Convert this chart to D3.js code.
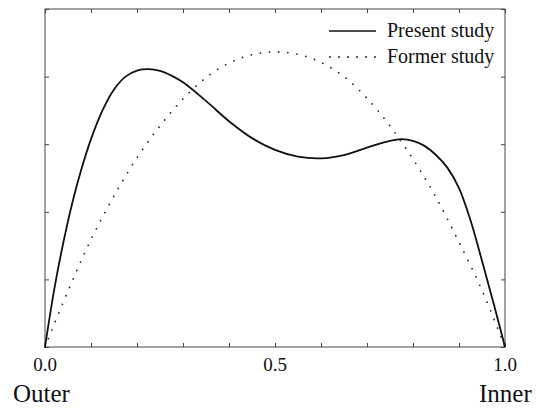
<!DOCTYPE html>
<html>
<head>
<meta charset="utf-8">
<script src="https://cdn.jsdelivr.net/npm/d3@7"></script>
<style>
  html, body { margin: 0; padding: 0; background: #fff; }
  svg text { font-family: "Liberation Serif", "Times New Roman", serif; fill: #111; }
</style>
</head>
<body>
<svg id="chart" width="536" height="409"></svg>
<script>
// ---------- DATA ----------
const xPresent = [0, 0.02, 0.04, 0.06, 0.08, 0.1, 0.125, 0.15, 0.175, 0.2, 0.225, 0.25, 0.275, 0.3,
  0.35, 0.4, 0.45, 0.5, 0.55, 0.6, 0.65, 0.7, 0.75, 0.775, 0.8, 0.825, 0.85, 0.875, 0.9, 0.925, 0.95, 0.975, 1];
const yPresent = [0, 0.17, 0.31, 0.43, 0.53, 0.615, 0.70, 0.762, 0.80, 0.818, 0.822, 0.817, 0.803, 0.783,
  0.728, 0.668, 0.618, 0.583, 0.563, 0.558, 0.568, 0.59, 0.61, 0.615, 0.61, 0.595, 0.568, 0.53, 0.47, 0.375, 0.255, 0.13, 0];

const xFormer = [0, 0.05, 0.1, 0.15, 0.2, 0.25, 0.3, 0.35, 0.4, 0.45, 0.5,
  0.55, 0.6, 0.65, 0.7, 0.75, 0.8, 0.85, 0.9, 0.95, 1];
const yFormer = [0, 0.166, 0.318, 0.447, 0.56, 0.654, 0.734, 0.797, 0.84, 0.865, 0.873,
  0.866, 0.842, 0.80, 0.736, 0.654, 0.556, 0.443, 0.31, 0.168, 0];

const xTicks = [0, 0.1, 0.2, 0.3, 0.4, 0.5, 0.6, 0.7, 0.8, 0.9, 1];
const yTicks = [0, 0.2, 0.4, 0.6, 0.8, 1];
const xTickLabels = [0, 0.5, 1];
const seriesNames = ['Present study', 'Former study'];

// ---------- CHART ----------
(function drawChart() {
  const svg = d3.select('#chart');
  const margin = { top: 9, right: 31, bottom: 62, left: 45 };
  const w = 536 - margin.left - margin.right;
  const h = 409 - margin.top - margin.bottom;

  const g = svg.append('g').attr('transform', `translate(${margin.left},${margin.top})`);

  const x = d3.scaleLinear().domain([0, 1]).range([0, w]);
  const y = d3.scaleLinear().domain([0, 1]).range([h, 0]);

  // inward ticks on all four sides
  const tick = 4;
  const axes = [
    [d3.axisBottom(x).tickValues(xTicks), `translate(0,${h})`],
    [d3.axisTop(x).tickValues(xTicks), 'translate(0,0)'],
    [d3.axisLeft(y).tickValues(yTicks), 'translate(0,0)'],
    [d3.axisRight(y).tickValues(yTicks), `translate(${w},0)`],
  ];
  axes.forEach(([ax, tr]) => {
    const a = g.append('g')
      .attr('transform', tr)
      .call(ax.tickSize(-tick).tickSizeOuter(0).tickFormat(''));
    a.select('.domain').remove();
    a.selectAll('line').attr('stroke', '#444');
  });

  // frame
  g.append('rect')
    .attr('width', w)
    .attr('height', h)
    .attr('fill', 'none')
    .attr('stroke', '#444')
    .attr('stroke-width', 1);

  // x tick labels
  g.selectAll('text.xlab')
    .data(xTickLabels)
    .join('text')
    .attr('class', 'xlab')
    .attr('x', (d) => x(d))
    .attr('y', h + 24)
    .attr('text-anchor', 'middle')
    .attr('font-size', 19)
    .text((d) => d3.format('.1f')(d));

  svg.append('text').attr('x', 13).attr('y', 402).attr('font-size', 25).text('Outer');
  svg.append('text').attr('x', 479).attr('y', 402).attr('font-size', 25).text('Inner');

  const line = d3.line()
    .x((d) => x(d[0]))
    .y((d) => y(d[1]))
    .curve(d3.curveCatmullRom.alpha(0.5));

  // former study (dotted)
  g.append('path')
    .datum(d3.zip(xFormer, yFormer))
    .attr('fill', 'none')
    .attr('stroke', '#222')
    .attr('stroke-width', 1.8)
    .attr('stroke-linecap', 'round')
    .attr('stroke-dasharray', '0,9.2')
    .attr('d', line);

  // present study (solid)
  g.append('path')
    .datum(d3.zip(xPresent, yPresent))
    .attr('fill', 'none')
    .attr('stroke', '#111')
    .attr('stroke-width', 1.8)
    .attr('d', line);

  // legend
  const legend = svg.append('g');
  const rows = [
    { name: seriesNames[0], y: 31, dash: null },
    { name: seriesNames[1], y: 57, dash: '0,9' },
  ];
  rows.forEach((r) => {
    legend.append('line')
      .attr('x1', r.dash ? 330 : 329)
      .attr('x2', 376)
      .attr('y1', r.y)
      .attr('y2', r.y)
      .attr('stroke', '#111')
      .attr('stroke-width', r.dash ? 1.8 : 1.6)
      .attr('stroke-linecap', r.dash ? 'round' : 'butt')
      .attr('stroke-dasharray', r.dash);
    legend.append('text')
      .attr('x', 387)
      .attr('y', r.y + 6)
      .attr('font-size', 20)
      .text(r.name);
  });
})();
</script>
</body>
</html>
